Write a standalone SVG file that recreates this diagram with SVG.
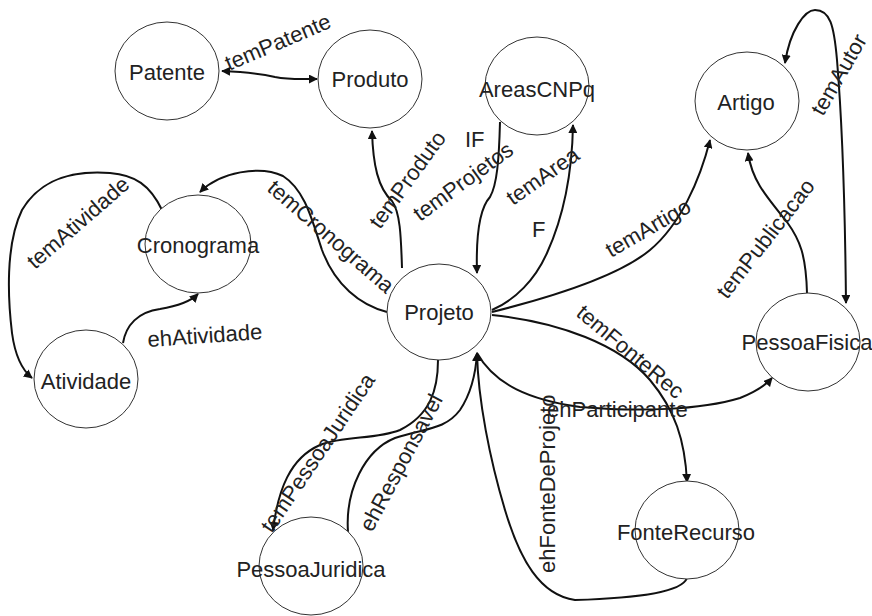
<svg xmlns="http://www.w3.org/2000/svg" width="872" height="616" viewBox="0 0 872 616">
  <style>
    .node ellipse { fill: #ffffff; stroke: #333333; stroke-width: 1; }
    .node text { font-family: "Liberation Sans", Arial, sans-serif; font-size: 22px; fill: #222222; text-anchor: middle; }
    .edge { fill: none; stroke: #111111; stroke-width: 2; }
    .lbl { font-family: "Liberation Sans", Arial, sans-serif; font-size: 22px; fill: #222222; }
  </style>
  <defs>
    <marker id="arrow" viewBox="0 0 10 10" refX="9" refY="5" markerWidth="9" markerHeight="9" markerUnits="userSpaceOnUse" orient="auto-start-reverse">
      <path d="M0,0 L10,5 L0,10 z" fill="#111111"/>
    </marker>
  </defs>

  <rect width="872" height="616" fill="#ffffff"/>

  <!-- connectors -->
  <g id="connectors">
    <path id="e-temPatente" class="edge" d="M222,71 C245,72 262,74 275,77 C290,80 300,79 317,79" marker-start="url(#arrow)" marker-end="url(#arrow)"/>
    <path id="e-temProduto" class="edge" d="M402,268 C401,235 400,212 392,201 C378,188 373,165 372,131" marker-end="url(#arrow)"/>
    <path id="e-temProjetos" class="edge" d="M500,122 C499,160 497,185 490,197 C478,210 476,240 477,273" marker-end="url(#arrow)"/>
    <path id="e-temArea" class="edge" d="M492,310 C515,300 535,280 547,253 C562,220 572,180 573,125" marker-end="url(#arrow)"/>
    <path id="e-temCronograma" class="edge" d="M387,312 C360,305 335,285 322,250 C312,220 305,190 283,176 C260,165 220,172 200,192" marker-end="url(#arrow)"/>
    <path id="e-temArtigo" class="edge" d="M492,312 C560,295 620,275 650,250 C680,225 700,180 710,140" marker-end="url(#arrow)"/>
    <path id="e-temPublicacao" class="edge" d="M807,293 C806,255 800,240 787,222 C765,195 752,180 748,153" marker-end="url(#arrow)"/>
    <path id="e-temAutor" class="edge" d="M785,63 C790,30 805,10 815,10 C830,10 834,25 837,60 C842,120 845,200 846,303" marker-start="url(#arrow)" marker-end="url(#arrow)"/>
    <path id="e-temAtividade" class="edge" d="M162,210 C150,185 135,175 110,173 C70,170 40,180 22,210 C5,245 8,300 12,333 C15,355 22,370 32,378" marker-end="url(#arrow)"/>
    <path id="e-ehAtividade" class="edge" d="M123,343 C126,325 138,312 160,309 C178,306 190,302 198,294" marker-end="url(#arrow)"/>
    <path id="e-temPessoaJuridica" class="edge" d="M438,360 C438,390 430,415 400,430 C375,440 345,435 320,445 C290,458 278,490 273,530" marker-end="url(#arrow)"/>
    <path id="e-ehResponsavel" class="edge" d="M348,532 C345,490 365,450 395,438 C425,428 445,430 460,410 C472,392 476,370 477,353" marker-end="url(#arrow)"/>
    <path id="e-ehFonteDeProjeto" class="edge" d="M687,578 C682,592 640,598 575,600 C540,595 520,560 505,510 C490,460 478,400 477,353" marker-end="url(#arrow)"/>
    <path id="e-temFonteRec" class="edge" d="M492,315 C560,322 620,345 650,380 C675,410 685,440 687,482" marker-end="url(#arrow)"/>
    <path id="e-ehParticipante" class="edge" d="M477,353 C495,385 530,400 580,407 C640,412 700,410 740,398 C755,392 765,386 772,378" marker-end="url(#arrow)"/>
  </g>

  <!-- nodes -->
  <g id="n-Patente" class="node"><ellipse cx="167" cy="71" rx="52" ry="49"/><text x="167" y="80">Patente</text></g>
  <g id="n-Produto" class="node"><ellipse cx="370" cy="79" rx="52" ry="49"/><text x="370" y="87">Produto</text></g>
  <g id="n-AreasCNPq" class="node"><ellipse cx="537" cy="86" rx="52" ry="49"/><text x="537" y="97">AreasCNPq</text></g>
  <g id="n-Artigo" class="node"><ellipse cx="747" cy="101" rx="52" ry="49"/><text x="746" y="110">Artigo</text></g>
  <g id="n-Cronograma" class="node"><ellipse cx="198" cy="244" rx="53" ry="49"/><text x="198" y="253">Cronograma</text></g>
  <g id="n-Atividade" class="node"><ellipse cx="86" cy="379" rx="52" ry="49"/><text x="86" y="389">Atividade</text></g>
  <g id="n-Projeto" class="node"><ellipse cx="439" cy="312" rx="52" ry="48"/><text x="439" y="320">Projeto</text></g>
  <g id="n-PessoaFisica" class="node"><ellipse cx="808" cy="342" rx="52" ry="49"/><text x="807" y="350">PessoaFisica</text></g>
  <g id="n-PessoaJuridica" class="node"><ellipse cx="311" cy="566" rx="52" ry="49"/><text x="311" y="577">PessoaJuridica</text></g>
  <g id="n-FonteRecurso" class="node"><ellipse cx="687" cy="530" rx="52" ry="49"/><text x="686" y="540">FonteRecurso</text></g>

  <!-- connector labels -->
  <g id="labels">
    <text class="lbl" transform="translate(229,71) rotate(-23)">temPatente</text>
    <text class="lbl" transform="translate(380,230) rotate(-54)">temProduto</text>
    <text class="lbl" x="465" y="147">IF</text>
    <text class="lbl" transform="translate(420,222) rotate(-36)">temProjetos</text>
    <text class="lbl" transform="translate(513,206) rotate(-35)">temArea</text>
    <text class="lbl" x="532" y="237">F</text>
    <text class="lbl" transform="translate(266,190) rotate(41)">temCronograma</text>
    <text class="lbl" transform="translate(611,258) rotate(-30)">temArtigo</text>
    <text class="lbl" transform="translate(727,300) rotate(-52)">temPublicacao</text>
    <text class="lbl" transform="translate(823,117) rotate(-60)">temAutor</text>
    <text class="lbl" transform="translate(35,270) rotate(-41)">temAtividade</text>
    <text class="lbl" transform="translate(148,347) rotate(-4)">ehAtividade</text>
    <text class="lbl" transform="translate(272,534) rotate(-56)">temPessoaJuridica</text>
    <text class="lbl" transform="translate(372,533) rotate(-62)">ehResponsavel</text>
    <text class="lbl" transform="translate(575,315) rotate(40)">temFonteRec</text>
    <text class="lbl" transform="translate(555,573) rotate(-90)">ehFonteDeProjeto</text>
    <text class="lbl" x="547" y="417">ehParticipante</text>
  </g>
</svg>
